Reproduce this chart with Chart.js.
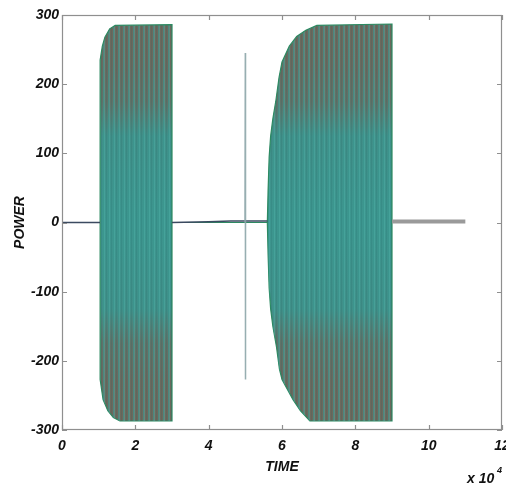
<!DOCTYPE html>
<html>
<head>
<meta charset="utf-8">
<script src="https://cdn.jsdelivr.net/npm/chart.js@4"></script>
<style>
  html, body { margin: 0; padding: 0; background: #fff; }
  #wrap { width: 506px; height: 486px; }
</style>
</head>
<body>
<div id="wrap"><canvas id="powerChart" width="506" height="486"></canvas></div>
<script>
// tick values (x in units of 10^4)
const xTickValues = [0, 2, 4, 6, 8, 10, 12];
const yTickValues = [-300, -200, -100, 0, 100, 200, 300];

// upper / lower envelope of the oscillating power
const upperTime  = [1.04, 1.04, 1.10, 1.17, 1.30, 1.45, 3.00, 3.00, 5.60, 5.62, 5.65, 5.69, 5.75, 5.83, 5.92, 6.00, 6.20, 6.40, 6.65, 6.95, 9.00, 9.00];
const upperPower = [0,    235,  255,  268,  280,  285,  286,  0,    0,    45,   95,   125,  150,  175,  210,  232,  255,  269,  278,  285,  287,  0];
const lowerTime  = [1.04, 1.04, 1.12, 1.25, 1.40, 1.58, 3.00, 3.00, 5.60, 5.62, 5.65, 5.69, 5.75, 5.85, 5.93, 6.00, 6.30, 6.50, 6.76, 9.00, 9.00];
const lowerPower = [0,   -227, -256, -272, -282, -287, -287,  0,    0,   -45,  -95,  -125, -150, -180, -212, -227, -256, -272, -287, -287,  0];

// quiet stretches and the short spike
const flatTime   = [0, 1.04, 2.0, 3.0, 4.0, 4.6, 5.6];
const flatPower  = [0, 0, null, 0, 1, 2, 2];
const tailTime   = [9.0, 11.0];
const tailPower  = [1.5, 1.5];
const spikeTime  = [4.99, 5.0, 5.0, 5.01];
const spikePower = [0, 245, -227, 0];

const zip = (xs, ys) => xs.map((x, i) => ({ x: x, y: ys[i] }));

const TEAL = 'rgb(60,150,143)';
const FONT = { family: '"Liberation Sans", Arial, sans-serif', size: 14, weight: 'bold', style: 'italic' };

// vertical colour: grey-brown near the peaks, teal around zero
let cachedGradient = null;
function bandGradient(context) {
    const chart = context.chart;
    const area = chart.chartArea;
    if (!area) return TEAL;
    if (cachedGradient) return cachedGradient;
    const grad = chart.ctx.createLinearGradient(0, area.top, 0, area.bottom);
    const stop = v => (300 - v) / 600;
    grad.addColorStop(stop(300), 'rgb(110,104,92)');
    grad.addColorStop(stop(230), 'rgb(106,106,95)');
    grad.addColorStop(stop(175), 'rgb(96,114,104)');
    grad.addColorStop(stop(125), 'rgb(64,144,137)');
    grad.addColorStop(stop(0), 'rgb(60,150,143)');
    grad.addColorStop(stop(-125), 'rgb(64,144,137)');
    grad.addColorStop(stop(-175), 'rgb(96,114,104)');
    grad.addColorStop(stop(-230), 'rgb(106,106,95)');
    grad.addColorStop(stop(-300), 'rgb(110,104,92)');
    cachedGradient = grad;
    return grad;
}

// thin vertical stripes laid over the band colour
let cachedStripes = null;
function stripes(context) {
    const chart = context.chart;
    if (cachedStripes) return cachedStripes;
    const c = document.createElement('canvas');
    c.width = 5;
    c.height = 4;
    const g = c.getContext('2d');
    g.fillStyle = 'rgba(30,90,90,0.14)';
    g.fillRect(1, 0, 1, 4);
    g.fillStyle = 'rgba(58,150,143,0.65)';
    g.fillRect(3, 0, 1, 4);
    g.fillStyle = 'rgba(80,178,168,0.45)';
    g.fillRect(4, 0, 1, 4);
    cachedStripes = chart.ctx.createPattern(c, 'repeat');
    return cachedStripes;
}

// MATLAB style box with ticks pointing inwards, plus the x 10^4 exponent
const boxTicks = {
    id: 'boxTicks',
    afterDraw(chart) {
        const { ctx, chartArea: a, scales: { x, y } } = chart;
        ctx.save();
        ctx.strokeStyle = '#8f8f8f';
        ctx.lineWidth = 1.2;
        ctx.strokeRect(a.left + 0.5, a.top + 0.5, a.right - a.left - 1, a.bottom - a.top - 1);
        ctx.beginPath();
        x.ticks.forEach(t => {
            const px = Math.round(x.getPixelForValue(t.value)) + 0.5;
            ctx.moveTo(px, a.bottom); ctx.lineTo(px, a.bottom - 5);
            ctx.moveTo(px, a.top); ctx.lineTo(px, a.top + 5);
        });
        y.ticks.forEach(t => {
            const py = Math.round(y.getPixelForValue(t.value)) + 0.5;
            ctx.moveTo(a.left, py); ctx.lineTo(a.left + 5, py);
            ctx.moveTo(a.right, py); ctx.lineTo(a.right - 5, py);
        });
        ctx.stroke();
        ctx.fillStyle = '#111';
        ctx.textBaseline = 'alphabetic';
        ctx.font = 'italic bold 14px "Liberation Sans", Arial, sans-serif';
        ctx.fillText('x 10', 467, 483);
        ctx.font = 'italic bold 9px "Liberation Sans", Arial, sans-serif';
        ctx.fillText('4', 497, 473);
        ctx.restore();
    }
};

const ctx = document.getElementById('powerChart');
new Chart(ctx, {
    type: 'line',
    data: {
        datasets: [
            {
                label: 'spike',
                data: zip(spikeTime, spikePower),
                borderColor: 'rgba(140,165,168,0.9)',
                borderWidth: 1.5,
                order: 1
            },
            {
                label: 'tail',
                data: zip(tailTime, tailPower),
                borderColor: '#9a9a9a',
                borderWidth: 4,
                order: 2
            },
            {
                label: 'flat',
                data: zip(flatTime, flatPower),
                borderColor: '#3b4a60',
                borderWidth: 1.5,
                order: 2
            },
            {
                label: 'upper stripes',
                data: zip(upperTime, upperPower),
                borderColor: 'rgb(45,138,98)',
                borderWidth: 1.2,
                backgroundColor: stripes,
                fill: '+1',
                order: 3
            },
            {
                label: 'lower stripes',
                data: zip(lowerTime, lowerPower),
                borderColor: 'rgb(45,138,98)',
                borderWidth: 1.2,
                fill: false,
                order: 3
            },
            {
                label: 'upper',
                data: zip(upperTime, upperPower),
                borderWidth: 0,
                backgroundColor: bandGradient,
                fill: '+1',
                order: 4
            },
            {
                label: 'lower',
                data: zip(lowerTime, lowerPower),
                borderWidth: 0,
                fill: false,
                order: 4
            }
        ]
    },
    options: {
        responsive: false,
        animation: false,
        events: [],
        elements: {
            point: { radius: 0 },
            line: { tension: 0 }
        },
        layout: { padding: { top: 15, right: 4, left: 0, bottom: 0 } },
        plugins: {
            legend: { display: false },
            tooltip: { enabled: false }
        },
        scales: {
            x: {
                type: 'linear',
                min: 0,
                max: 12,
                afterBuildTicks: s => { s.ticks = xTickValues.map(v => ({ value: v })); },
                afterFit: s => { s.height = 56; s.paddingLeft = 0; s.paddingRight = 0; },
                grid: { display: false, drawTicks: false },
                border: { display: false },
                ticks: { color: '#111', font: FONT, padding: 8, maxRotation: 0, autoSkip: false },
                title: { display: true, text: 'TIME', color: '#111', font: FONT, padding: { top: 0, bottom: 10 } }
            },
            y: {
                type: 'linear',
                min: -300,
                max: 300,
                afterBuildTicks: s => { s.ticks = yTickValues.map(v => ({ value: v })); },
                afterFit: s => { s.width = 62; },
                grid: { display: false, drawTicks: false },
                border: { display: false },
                ticks: { color: '#111', font: FONT, padding: 3, autoSkip: false },
                title: { display: true, text: 'POWER', color: '#111', font: FONT, padding: { top: 12, bottom: 0 } }
            }
        }
    },
    plugins: [boxTicks]
});
</script>
</body>
</html>
